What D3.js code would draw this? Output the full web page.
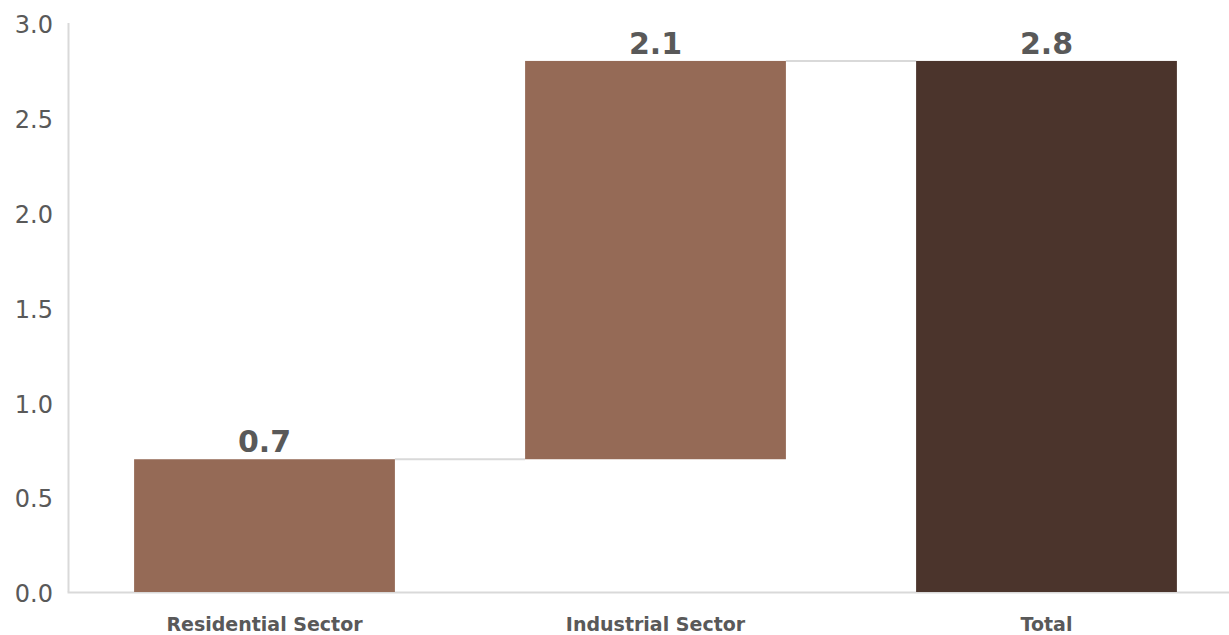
<!DOCTYPE html>
<html>
<head>
<meta charset="utf-8">
<script src="https://cdn.jsdelivr.net/npm/d3@7"></script>
<style>
  html, body { margin: 0; padding: 0; background: #fff; }
  svg { display: block; }
</style>
</head>
<body>
<svg id="chart" width="1229" height="635"></svg>
<script>
// Waterfall: sector contributions stacking up to the total
const categories = ["Residential Sector", "Industrial Sector", "Total"];
const values = [0.7, 2.1, 2.8];
const isTotal = [false, false, true];
const yTicks = [0, 0.5, 1.0, 1.5, 2.0, 2.5, 3.0];

const svg = d3.select("#chart");
const W = 1229, H = 635;
const x0 = 69, x1 = 1242, yBase = 592, yTop = 23;

const x = d3.scaleBand()
  .domain(categories)
  .range([x0, x1])
  .paddingInner(0.333)
  .paddingOuter(0.1665);

const y = d3.scaleLinear().domain([0, 3]).range([yBase, yTop]);

// running start/end for each step
let run = 0;
const steps = categories.map((c, i) => {
  let start, end;
  if (isTotal[i]) { start = 0; end = values[i]; run = values[i]; }
  else { start = run; end = run + values[i]; run = end; }
  return { cat: c, value: values[i], start, end, total: isTotal[i] };
});

// axis lines
svg.append("line")
  .attr("x1", x0 - 0.5).attr("x2", x0 - 0.5)
  .attr("y1", y(3)).attr("y2", yBase)
  .attr("stroke", "#d9d9d9").attr("stroke-width", 2);
svg.append("line")
  .attr("x1", x0 - 1.5).attr("x2", W)
  .attr("y1", yBase + 0.5).attr("y2", yBase + 0.5)
  .attr("stroke", "#d9d9d9").attr("stroke-width", 2);

// y tick labels
const yAxis = d3.axisLeft(y).tickValues(yTicks).tickFormat(d3.format(".1f")).tickSize(0).tickPadding(16);
const gy = svg.append("g").attr("transform", `translate(${x0},2)`).call(yAxis);
gy.select(".domain").remove();
gy.selectAll("text")
  .attr("font-family", "Tahoma, 'DejaVu Sans', sans-serif")
  .attr("font-size", 24)
  .attr("fill", "#595959");

// connectors between consecutive bars
for (let i = 0; i < steps.length - 1; i++) {
  const lvl = steps[i].end;
  svg.append("line")
    .attr("x1", x(steps[i].cat) + x.bandwidth())
    .attr("x2", x(steps[i + 1].cat))
    .attr("y1", y(lvl)).attr("y2", y(lvl))
    .attr("stroke", "#d9d9d9").attr("stroke-width", 2);
}

// bars
svg.selectAll("rect.bar").data(steps).enter().append("rect")
  .attr("class", "bar")
  .attr("x", d => x(d.cat))
  .attr("width", x.bandwidth())
  .attr("y", d => y(d.end))
  .attr("height", d => y(d.start) - y(d.end))
  .attr("fill", d => d.total ? "#4b342c" : "#956a56");

// value labels
svg.selectAll("text.val").data(steps).enter().append("text")
  .attr("class", "val")
  .attr("x", d => x(d.cat) + x.bandwidth() / 2)
  .attr("y", d => y(d.end) - 7)
  .attr("text-anchor", "middle")
  .attr("font-family", "Tahoma, 'DejaVu Sans', sans-serif")
  .attr("font-weight", "bold")
  .attr("font-size", 30)
  .attr("fill", "#595959")
  .text(d => d3.format(".1f")(d.value));

// category labels
const xAxis = d3.axisBottom(x).tickSize(0).tickPadding(0);
const gx = svg.append("g").attr("transform", `translate(0,${yBase})`).call(xAxis);
gx.select(".domain").remove();
gx.selectAll("text")
  .attr("y", 32)
  .attr("dy", "0.35em")
  .attr("font-family", "Tahoma, 'DejaVu Sans', sans-serif")
  .attr("font-weight", "bold")
  .attr("font-size", 19)
  .attr("fill", "#595959");
</script>
</body>
</html>
